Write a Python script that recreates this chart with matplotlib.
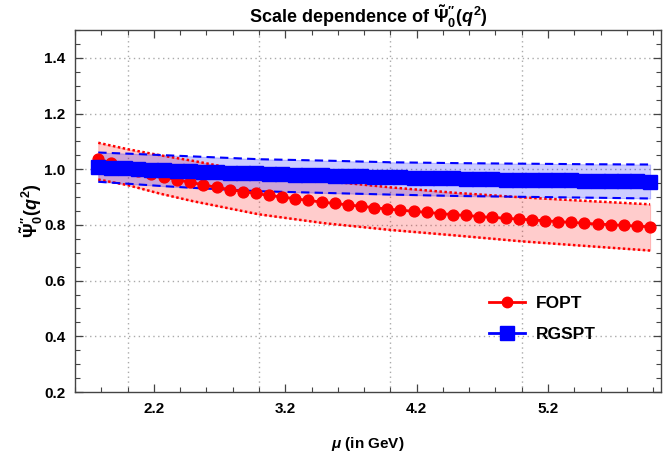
import matplotlib
matplotlib.use("Agg")
import matplotlib.pyplot as plt
from matplotlib.ticker import FixedLocator, MultipleLocator

plt.rcParams['font.family'] = ['Liberation Sans', 'DejaVu Sans']
plt.rcParams['font.weight'] = 'bold'
plt.rcParams['axes.labelweight'] = 'bold'
plt.rcParams['mathtext.fontset'] = 'custom'
plt.rcParams['mathtext.rm'] = 'Liberation Sans:bold'
plt.rcParams['mathtext.it'] = 'Liberation Sans:italic:bold'
plt.rcParams['mathtext.bf'] = 'Liberation Sans:bold'

# scale mu (GeV) of the plotted points
mu = [1.777, 1.877, 1.977, 2.077, 2.177, 2.277, 2.377, 2.477, 2.577, 2.677,
      2.777, 2.877, 2.977, 3.077, 3.177, 3.277, 3.377, 3.477, 3.577, 3.677,
      3.777, 3.877, 3.977, 4.077, 4.177, 4.277, 4.377, 4.477, 4.577, 4.677,
      4.777, 4.877, 4.977, 5.077, 5.177, 5.277, 5.377, 5.477, 5.577, 5.677,
      5.777, 5.877, 5.977]

fopt = [1.037, 1.022, 1.008, 0.995, 0.983, 0.972, 0.962, 0.953, 0.944, 0.935,
        0.927, 0.920, 0.913, 0.906, 0.900, 0.894, 0.888, 0.882, 0.877, 0.872,
        0.867, 0.862, 0.857, 0.853, 0.849, 0.845, 0.841, 0.837, 0.834, 0.830,
        0.827, 0.824, 0.821, 0.818, 0.815, 0.812, 0.809, 0.806, 0.803, 0.801,
        0.798, 0.796, 0.793]

rgspt = [1.008, 1.005, 1.003, 1.000, 0.998, 0.996, 0.994, 0.993, 0.991, 0.989,
         0.988, 0.986, 0.985, 0.983, 0.982, 0.980, 0.979, 0.978, 0.976, 0.975,
         0.974, 0.973, 0.972, 0.971, 0.970, 0.969, 0.968, 0.967, 0.966, 0.965,
         0.964, 0.963, 0.963, 0.962, 0.961, 0.960, 0.960, 0.959, 0.958, 0.957,
         0.957, 0.956, 0.955]

# uncertainty bands
mu_band = [1.777, 2.0, 2.25, 2.5, 3.0, 3.5, 4.0, 4.5, 5.0, 5.5, 5.977]
fopt_hi = [1.095, 1.072, 1.050, 1.030, 0.985, 0.958, 0.935, 0.915, 0.899, 0.886, 0.874]
fopt_lo = [0.963, 0.943, 0.912, 0.885, 0.838, 0.806, 0.782, 0.762, 0.741, 0.724, 0.708]
rgspt_hi = [1.060, 1.056, 1.051, 1.046, 1.036, 1.031, 1.025, 1.022, 1.020, 1.018, 1.017]
rgspt_lo = [0.955, 0.948, 0.940, 0.933, 0.921, 0.915, 0.909, 0.904, 0.901, 0.898, 0.895]

fig = plt.figure(figsize=(6.68, 4.53), dpi=100)
ax = fig.add_axes([75/668, 1 - 392/453, 586/668, 362/453])

for xv in [2, 3, 4, 5]:
    ax.axvline(xv, color='#aaaaaa', ls=(0, (1, 2.5)), lw=1.0, zorder=0)
for yv in [0.4, 0.6, 0.8, 1.0, 1.2, 1.4]:
    ax.axhline(yv, color='#aaaaaa', ls=(0, (1, 2.5)), lw=1.0, zorder=0)

# FOPT band + points
ax.fill_between(mu_band, fopt_lo, fopt_hi, color='red', alpha=0.2, lw=0.8, zorder=1)
ax.plot(mu_band, fopt_hi, color='red', ls=(0, (1, 1)), lw=1.8, zorder=2)
ax.plot(mu_band, fopt_lo, color='red', ls=(0, (1, 1)), lw=1.8, zorder=2)

ax.fill_between(mu_band, rgspt_lo, rgspt_hi, color='blue', alpha=0.2, lw=0.8, zorder=1)
ax.plot(mu_band, rgspt_hi, color='blue', ls=(0, (4, 2.5)), lw=1.5, zorder=2)
ax.plot(mu_band, rgspt_lo, color='blue', ls=(0, (4, 2.5)), lw=1.5, zorder=2)

ax.plot(mu, fopt, color='red', lw=2, marker='o', ms=7.8, label='FOPT', zorder=3)
ax.plot(mu, rgspt, color='blue', lw=2, marker='s', ms=9.5, label='RGSPT', zorder=4)

ax.set_xlim(1.6, 6.06)
ax.set_ylim(0.2, 1.5)

ax.xaxis.set_major_locator(FixedLocator([2.2, 3.2, 4.2, 5.2]))
ax.xaxis.set_minor_locator(MultipleLocator(0.2))
ax.yaxis.set_major_locator(FixedLocator([0.2, 0.4, 0.6, 0.8, 1.0, 1.2, 1.4]))
ax.yaxis.set_minor_locator(MultipleLocator(0.05))
ax.tick_params(which='both', direction='in', top=True, right=True, color='#444444',
               labelsize=11, pad=7)
ax.tick_params(which='major', length=6, width=0.9)
ax.tick_params(which='minor', length=3.5, width=0.8)
for s in ax.spines.values():
    s.set_color('#444444')
    s.set_linewidth(1.0)

ax.set_title(r"Scale dependence of $\tilde{\Psi}_0^{\prime\prime}(q^2)$", fontsize=13,
             fontweight='bold', pad=5)
ax.set_ylabel(r"$\tilde{\Psi}_0^{\prime\prime}(q^2)$", fontsize=13, labelpad=-1)
ax.set_xlabel(r"$\mu$ (in GeV)", fontsize=11, fontweight='bold', labelpad=14)

leg = ax.legend(loc='upper left', bbox_to_anchor=(0.706, 0.266), frameon=False,
                fontsize=12.5, handlelength=2.1, handletextpad=0.6, labelspacing=0.9,
                borderpad=0, borderaxespad=0)
leg.legend_handles[0].set_markersize(7.5)
leg.legend_handles[1].set_markersize(10.5)

fig.savefig('out.png', dpi=100)
